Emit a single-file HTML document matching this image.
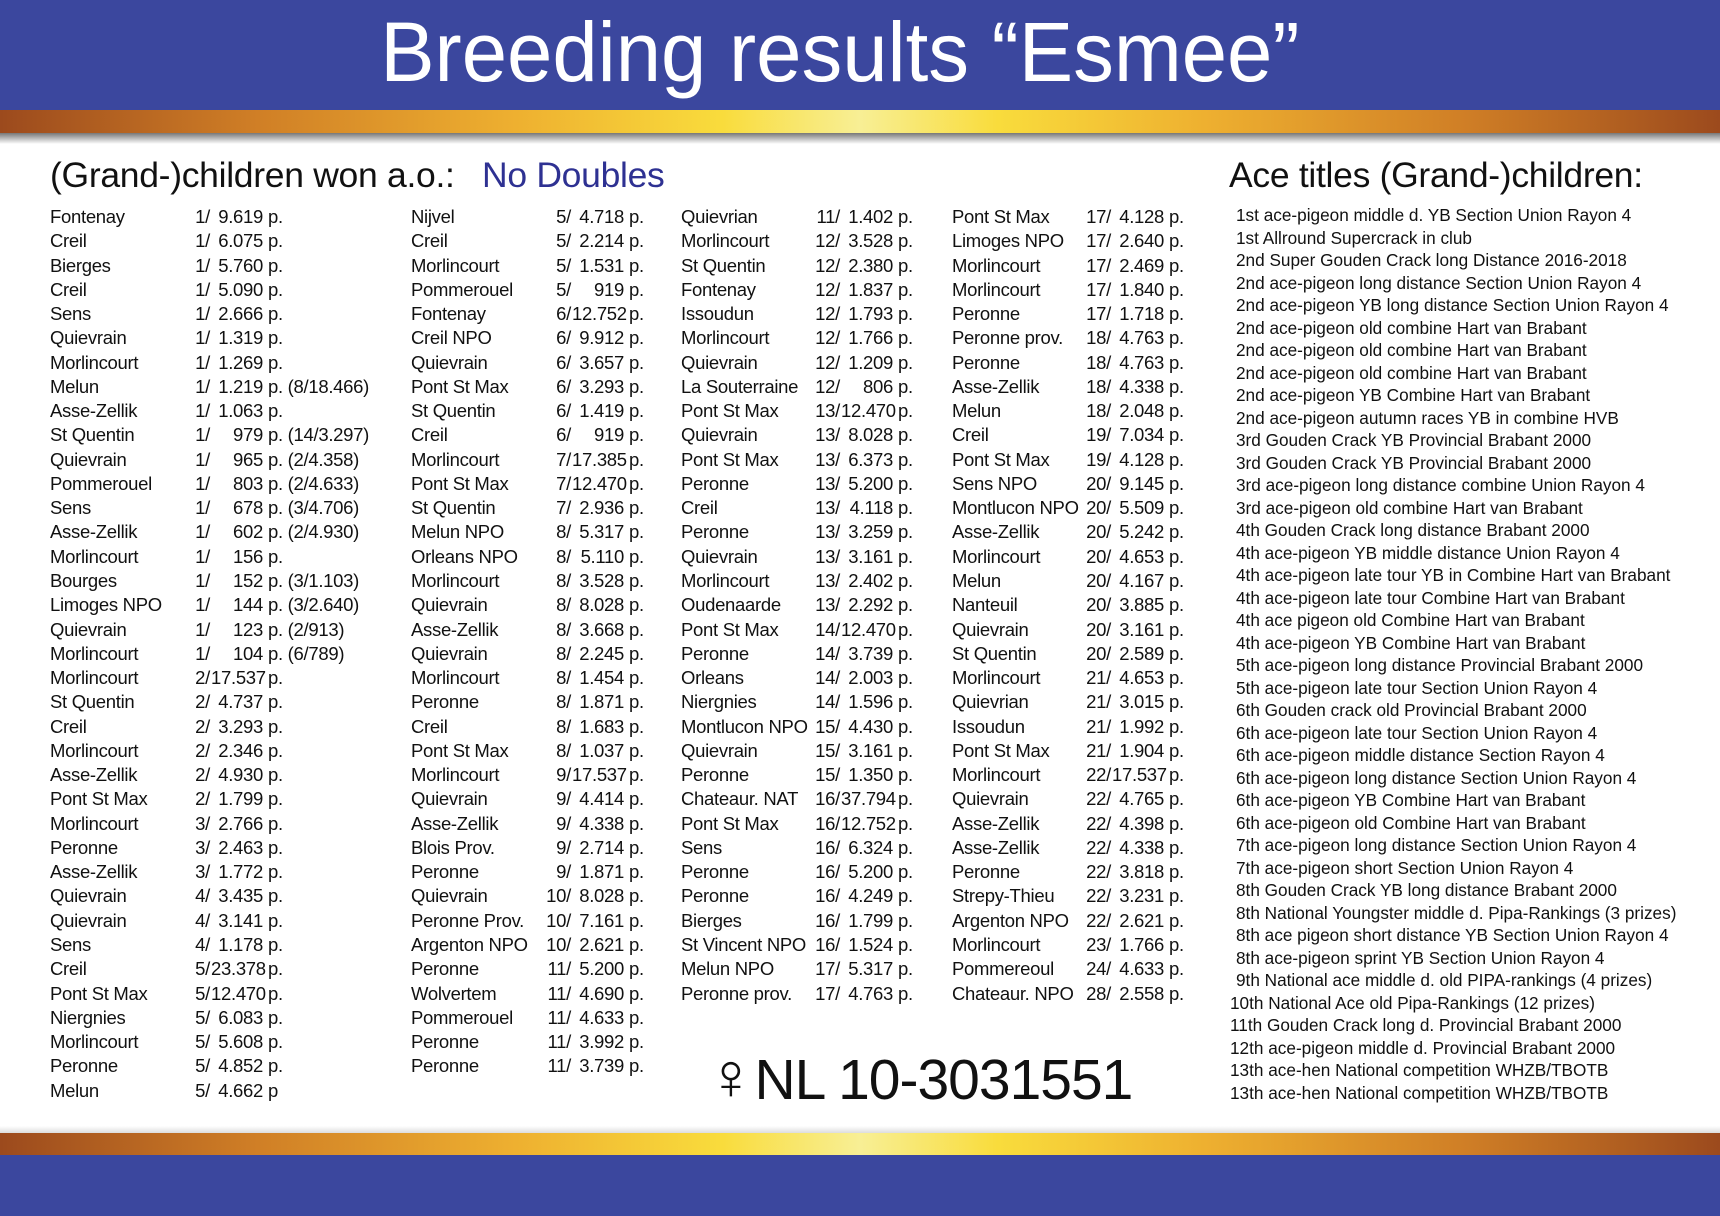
<!DOCTYPE html>
<html><head><meta charset="utf-8"><style>
*{margin:0;padding:0;box-sizing:border-box}
body{width:1720px;height:1216px;position:relative;background:#fff;overflow:hidden;font-family:"Liberation Sans",sans-serif;color:#111}
.blue{position:absolute;left:0;width:1720px;background:#3b479e}
.gold{position:absolute;left:0;width:1720px;background:linear-gradient(90deg,#9c4a1d 0%,#d07f26 15%,#eeb030 30%,#f9dc3c 42%,#f8ef95 50%,#f9dc3c 58%,#eeb030 70%,#d07f26 85%,#9c4a1d 100%)}
#title{position:absolute;left:-20px;width:1720px;top:2px;text-align:center;color:#fff;font-size:84px;line-height:100px;letter-spacing:0px}
#title span{display:inline-block;transform:scaleX(0.97)}
.h{position:absolute;font-size:35.5px;line-height:40px;letter-spacing:-0.3px}
.col{position:absolute;top:205px;font-size:18.5px;line-height:24.28px;letter-spacing:-0.3px}
.r{position:relative;height:24.28px;white-space:nowrap}
.r .n{position:absolute;left:0}
.r .k{position:absolute;text-align:right;width:40px}
.r .v{position:absolute;text-align:right;width:52px}
.r .p{position:absolute}
#ace{position:absolute;left:1236px;top:204px;font-size:17.2px;line-height:22.5px;letter-spacing:0px;white-space:nowrap}
#nl{position:absolute;left:706px;top:1041px;font-size:57px;line-height:70px;letter-spacing:-1px;white-space:nowrap}
#nl b{font-weight:normal;font-size:66px}
</style></head><body>
<div class="blue" style="top:0;height:110px"></div>
<div class="gold" style="top:110px;height:23px"></div>
<div style="position:absolute;left:0;top:133px;width:1720px;height:11px;background:linear-gradient(#777,#fff)"></div>
<div id="title"><span>Breeding results “Esmee”</span></div>
<div style="position:absolute;left:0;top:1126px;width:1720px;height:7px;background:linear-gradient(#fff,#ddd)"></div>
<div class="gold" style="top:1133px;height:22px"></div>
<div class="blue" style="top:1155px;height:61px"></div>

<div class="h" style="left:50px;top:155px">(Grand-)children won a.o.:</div>
<div class="h" style="left:482px;top:155px;color:#2e3192">No Doubles</div>
<div class="h" style="left:1229px;top:155px">Ace titles (Grand-)children:</div>

<div id="cols"></div>

<div id="ace">
1st ace-pigeon middle d. YB Section Union Rayon 4<br>1st Allround Supercrack in club<br>2nd Super Gouden Crack long Distance 2016-2018<br>2nd ace-pigeon long distance Section Union Rayon 4<br>2nd ace-pigeon YB long distance Section Union Rayon 4<br>2nd ace-pigeon old combine Hart van Brabant<br>2nd ace-pigeon old combine Hart van Brabant<br>2nd ace-pigeon old combine Hart van Brabant<br>2nd ace-pigeon YB Combine Hart van Brabant<br>2nd ace-pigeon autumn races YB in combine HVB<br>3rd Gouden Crack YB Provincial Brabant 2000<br>3rd Gouden Crack YB Provincial Brabant 2000<br>3rd ace-pigeon long distance combine Union Rayon 4<br>3rd ace-pigeon old combine Hart van Brabant<br>4th Gouden Crack long distance Brabant 2000<br>4th ace-pigeon YB middle distance Union Rayon 4<br>4th ace-pigeon late tour YB in Combine Hart van Brabant<br>4th ace-pigeon late tour Combine Hart van Brabant<br>4th ace pigeon old Combine Hart van Brabant<br>4th ace-pigeon YB Combine Hart van Brabant<br>5th ace-pigeon long distance Provincial Brabant 2000<br>5th ace-pigeon late tour Section Union Rayon 4<br>6th Gouden crack old Provincial Brabant 2000<br>6th ace-pigeon late tour Section Union Rayon 4<br>6th ace-pigeon middle distance Section Rayon 4<br>6th ace-pigeon long distance Section Union Rayon 4<br>6th ace-pigeon YB Combine Hart van Brabant<br>6th ace-pigeon old Combine Hart van Brabant<br>7th ace-pigeon long distance Section Union Rayon 4<br>7th ace-pigeon short Section Union Rayon 4<br>8th Gouden Crack YB long distance Brabant 2000<br>8th National Youngster middle d. Pipa-Rankings (3 prizes)<br>8th ace pigeon short distance YB Section Union Rayon 4<br>8th ace-pigeon sprint YB Section Union Rayon 4<br>9th National ace middle d. old PIPA-rankings (4 prizes)<br><span style="margin-left:-6px">10th National Ace old Pipa-Rankings (12 prizes)</span><br><span style="margin-left:-6px">11th Gouden Crack long d. Provincial Brabant 2000</span><br><span style="margin-left:-6px">12th ace-pigeon middle d. Provincial Brabant 2000</span><br><span style="margin-left:-6px">13th ace-hen National competition WHZB/TBOTB</span><br><span style="margin-left:-6px">13th ace-hen National competition WHZB/TBOTB</span>
</div>

<div id="nl"><b>♀</b>NL 10-3031551</div>

<script>
const cols=[
{x:50,ke:210,d:`Fontenay|1|9.619|
Creil|1|6.075|
Bierges|1|5.760|
Creil|1|5.090|
Sens|1|2.666|
Quievrain|1|1.319|
Morlincourt|1|1.269|
Melun|1|1.219|(8/18.466)
Asse-Zellik|1|1.063|
St Quentin|1|979|(14/3.297)
Quievrain|1|965|(2/4.358)
Pommerouel|1|803|(2/4.633)
Sens|1|678|(3/4.706)
Asse-Zellik|1|602|(2/4.930)
Morlincourt|1|156|
Bourges|1|152|(3/1.103)
Limoges NPO|1|144|(3/2.640)
Quievrain|1|123|(2/913)
Morlincourt|1|104|(6/789)
Morlincourt|2|17.537|
St Quentin|2|4.737|
Creil|2|3.293|
Morlincourt|2|2.346|
Asse-Zellik|2|4.930|
Pont St Max|2|1.799|
Morlincourt|3|2.766|
Peronne|3|2.463|
Asse-Zellik|3|1.772|
Quievrain|4|3.435|
Quievrain|4|3.141|
Sens|4|1.178|
Creil|5|23.378|
Pont St Max|5|12.470|
Niergnies|5|6.083|
Morlincourt|5|5.608|
Peronne|5|4.852|
Melun|5|4.662|P`},
{x:411,ke:571,d:`Nijvel|5|4.718|
Creil|5|2.214|
Morlincourt|5|1.531|
Pommerouel|5|919|
Fontenay|6|12.752|
Creil NPO|6|9.912|
Quievrain|6|3.657|
Pont St Max|6|3.293|
St Quentin|6|1.419|
Creil|6|919|
Morlincourt|7|17.385|
Pont St Max|7|12.470|
St Quentin|7|2.936|
Melun NPO|8|5.317|
Orleans NPO|8|5.110|
Morlincourt|8|3.528|
Quievrain|8|8.028|
Asse-Zellik|8|3.668|
Quievrain|8|2.245|
Morlincourt|8|1.454|
Peronne|8|1.871|
Creil|8|1.683|
Pont St Max|8|1.037|
Morlincourt|9|17.537|
Quievrain|9|4.414|
Asse-Zellik|9|4.338|
Blois Prov.|9|2.714|
Peronne|9|1.871|
Quievrain|10|8.028|
Peronne Prov.|10|7.161|
Argenton NPO|10|2.621|
Peronne|11|5.200|
Wolvertem|11|4.690|
Pommerouel|11|4.633|
Peronne|11|3.992|
Peronne|11|3.739|`},
{x:681,ke:840,d:`Quievrian|11|1.402|
Morlincourt|12|3.528|
St Quentin|12|2.380|
Fontenay|12|1.837|
Issoudun|12|1.793|
Morlincourt|12|1.766|
Quievrain|12|1.209|
La Souterraine|12|806|
Pont St Max|13|12.470|
Quievrain|13|8.028|
Pont St Max|13|6.373|
Peronne|13|5.200|
Creil|13|4.118|
Peronne|13|3.259|
Quievrain|13|3.161|
Morlincourt|13|2.402|
Oudenaarde|13|2.292|
Pont St Max|14|12.470|
Peronne|14|3.739|
Orleans|14|2.003|
Niergnies|14|1.596|
Montlucon NPO|15|4.430|
Quievrain|15|3.161|
Peronne|15|1.350|
Chateaur. NAT|16|37.794|
Pont St Max|16|12.752|
Sens|16|6.324|
Peronne|16|5.200|
Peronne|16|4.249|
Bierges|16|1.799|
St Vincent NPO|16|1.524|
Melun NPO|17|5.317|
Peronne prov.|17|4.763|`},
{x:952,ke:1111,d:`Pont St Max|17|4.128|
Limoges NPO|17|2.640|
Morlincourt|17|2.469|
Morlincourt|17|1.840|
Peronne|17|1.718|
Peronne prov.|18|4.763|
Peronne|18|4.763|
Asse-Zellik|18|4.338|
Melun|18|2.048|
Creil|19|7.034|
Pont St Max|19|4.128|
Sens NPO|20|9.145|
Montlucon NPO|20|5.509|
Asse-Zellik|20|5.242|
Morlincourt|20|4.653|
Melun|20|4.167|
Nanteuil|20|3.885|
Quievrain|20|3.161|
St Quentin|20|2.589|
Morlincourt|21|4.653|
Quievrian|21|3.015|
Issoudun|21|1.992|
Pont St Max|21|1.904|
Morlincourt|22|17.537|
Quievrain|22|4.765|
Asse-Zellik|22|4.398|
Asse-Zellik|22|4.338|
Peronne|22|3.818|
Strepy-Thieu|22|3.231|
Argenton NPO|22|2.621|
Morlincourt|23|1.766|
Pommereoul|24|4.633|
Chateaur. NPO|28|2.558|`}];
let h='';
for(const c of cols){
 h+=`<div class="col" style="left:${c.x}px">`;
 for(const line of c.d.split('\n')){
  const [n,k,v,e]=line.split('|');
  const kl=c.ke-c.x-40, vl=c.ke-c.x+1, pl=vl+57;
  const tail = e==='P' ? 'p' : 'p.'+(e?' '+e:'');
  h+=`<div class="r"><span class="n">${n}</span><span class="k" style="left:${kl}px">${k}/</span><span class="v" style="left:${vl}px">${v}</span><span class="p" style="left:${pl}px">${tail}</span></div>`;
 }
 h+='</div>';
}
document.getElementById('cols').innerHTML=h;
</script>
</body></html>
